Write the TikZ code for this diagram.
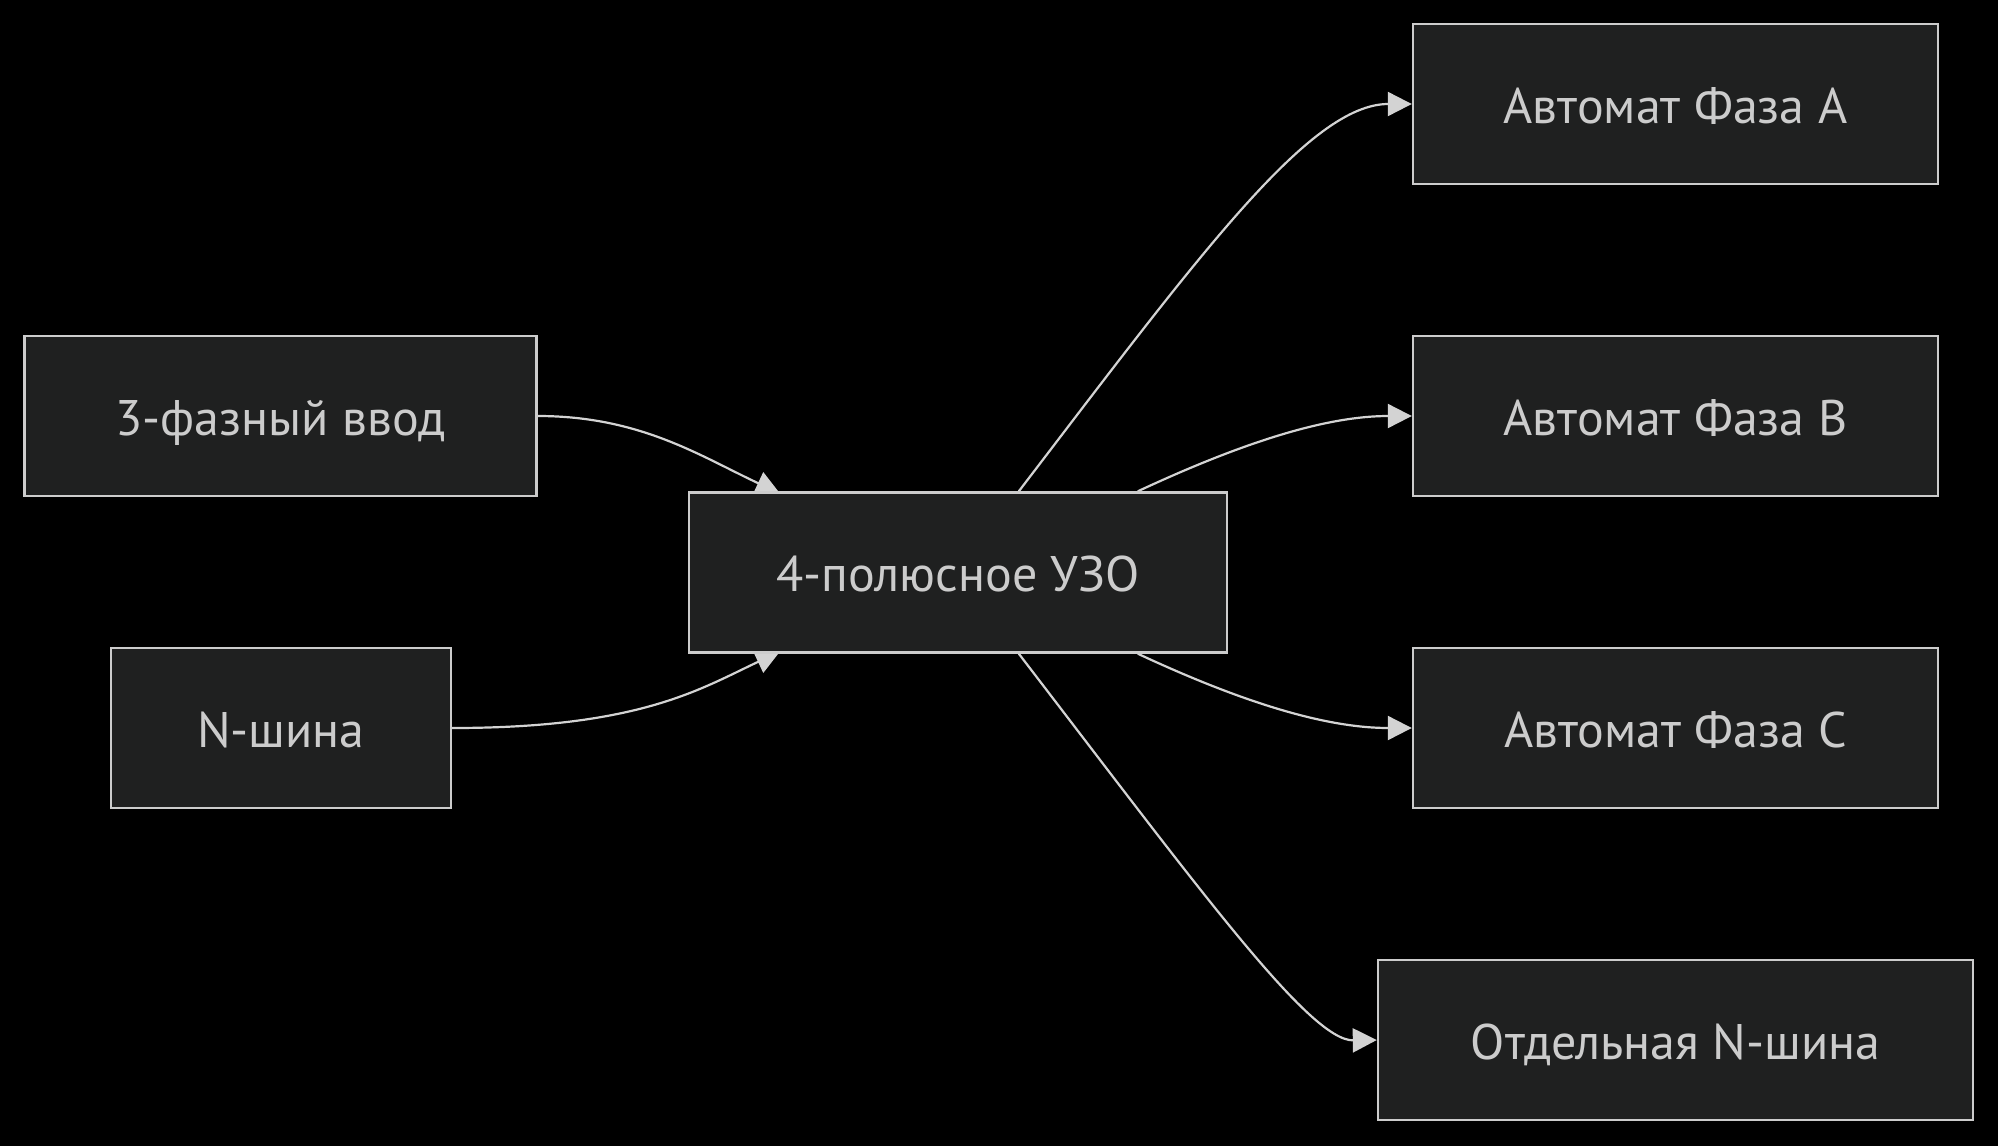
\documentclass[tikz,border=0pt]{standalone}
\usepackage{fontspec}
\setmainfont{PT Sans}
\usetikzlibrary{arrows.meta,calc,backgrounds}
\definecolor{boxfill}{HTML}{1F2020}
\definecolor{boxline}{HTML}{CCCCCC}
\definecolor{boxtext}{HTML}{CCCCCC}
\definecolor{wireline}{HTML}{D3D3D3}
\tikzset{
  box/.style={draw=boxline, fill=boxfill, text=boxtext, line width=1.2pt,
    minimum height=80pt, inner sep=0pt, text height=20pt, text depth=1pt,
    font=\fontsize{25}{30}\selectfont},
  wire/.style={draw=wireline, line width=1.1pt,
    -{Triangle[length=12pt,width=12pt,fill=wireline]}}
}
\begin{document}
\begin{tikzpicture}[x=0.5pt, y=-0.5pt]
\useasboundingbox (0,0) rectangle (1998,1146);
\node[box, minimum width=256pt] (vvod) at (280.5,416) {3-фазный ввод};
\node[box, minimum width=170pt] (nbus) at (281,728) {N-шина};
\node[box, minimum width=269pt] (uzo) at (958,572.5) {4-полюсное УЗО};
\node[box, minimum width=262.5pt] (pa) at (1675.5,104) {Автомат Фаза A};
\node[box, minimum width=262.5pt] (pb) at (1675.5,416) {Автомат Фаза B};
\node[box, minimum width=262.5pt] (pc) at (1675.5,728) {Автомат Фаза C};
\node[box, minimum width=297.5pt] (sep) at (1675.5,1040) {Отдельная N-шина};
\begin{scope}[on background layer]
\fill[black] (0,0) rectangle (1998,1146);
\draw[wire] (vvod.east) .. controls (640,416) and (700,456) .. ($(uzo.north west)+(92,2)$);
\draw[wire] (nbus.east) .. controls (640,728) and (700,689) .. ($(uzo.south west)+(92,-2)$);
\draw[wire] ($(uzo.north west)+(331,0)$) .. controls (1200,254) and (1310,104) .. (pa.west);
\draw[wire] ($(uzo.north west)+(450,0)$) .. controls (1250,439) and (1330,416) .. (pb.west);
\draw[wire] ($(uzo.south west)+(450,0)$) .. controls (1250,706) and (1330,728) .. (pc.west);
\draw[wire] ($(uzo.south west)+(331,0)$) .. controls (1200,890) and (1310,1041) .. (sep.west);
\end{scope}
\end{tikzpicture}
\end{document}
